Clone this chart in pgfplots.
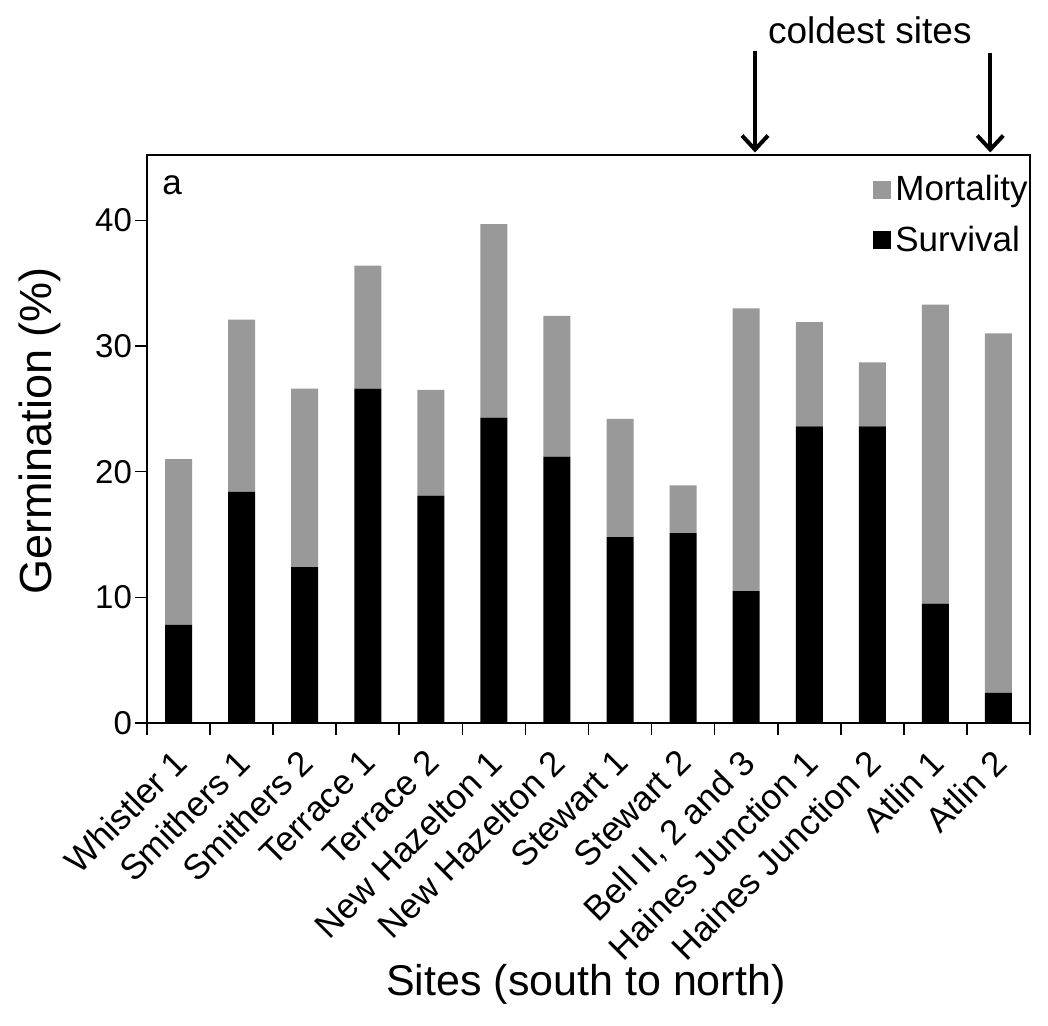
\documentclass[border=0pt]{standalone}
\usepackage{fontspec}
\setmainfont{Liberation Sans}
\usepackage{pgfplots}
\pgfplotsset{compat=1.18}
\usetikzlibrary{arrows.meta}
\definecolor{mort}{gray}{0.6}

\begin{document}
\begin{tikzpicture}
\path[use as bounding box] (-73.5pt,-151.5pt) rectangle (450.5pt,361.5pt);
\begin{axis}[
  at={(0pt,0pt)}, anchor=south west,
  scale only axis, width=441.5pt, height=284pt,
  ybar stacked, bar width=13.5pt,
  xmin=-0.5, xmax=13.5, ymin=0, ymax=45.2,
  clip=false,
  axis line style={line width=0.8pt},
  tick style={line width=0.8pt, black},
  tick align=outside, major tick length=6pt,
  tick pos=left,
  xtick={-0.5,0.5,...,13.5}, xticklabels={},
  extra x ticks={0,1,2,3,4,5,6,7,8,9,10,11,12,13},
  extra x tick labels={Whistler 1,Smithers 1,Smithers 2,Terrace 1,Terrace 2,New Hazelton 1,New Hazelton 2,Stewart 1,Stewart 2,{Bell II, 2 and 3},Haines Junction 1,Haines Junction 2,Atlin 1,Atlin 2},
  extra x tick style={major tick length=0pt},
  x tick label style={xshift=-3.6pt, yshift=-10.5pt, rotate=45, anchor=north east, font=\fontsize{17.5}{20}\selectfont, inner sep=1pt},
  ytick={0,10,20,30,40},
  y tick label style={font=\fontsize{16.5}{19}\selectfont, xshift=2pt},
  /pgf/number format/assume math mode=true,
  xlabel={Sites (south to north)},
  ylabel={Germination (\%)},
  xlabel style={at={(axis description cs:0.497,-0.461)}, anchor=center, font=\fontsize{21.5}{25}\selectfont},
  ylabel style={at={(axis description cs:-0.121,0.514)}, anchor=center, font=\fontsize{22.5}{26}\selectfont},
  reverse legend,
  legend cell align=left,
  legend style={draw=none, fill=none, at={(1,1)}, anchor=north east, yshift=-8pt, xshift=1pt, inner sep=0pt,
    font=\fontsize{17.5}{20}\selectfont, row sep=7pt},
  legend image code/.code={\fill[#1] (0pt,-4.5pt) rectangle (9pt,4.5pt);},
]
\addplot[fill=black, draw=none] coordinates {
(0,7.8) (1,18.4) (2,12.4) (3,26.6) (4,18.1) (5,24.3) (6,21.2)
(7,14.8) (8,15.1) (9,10.5) (10,23.6) (11,23.6) (12,9.5) (13,2.4)};
\addlegendentry{Survival}
\addplot[fill=mort, draw=none] coordinates {
(0,13.2) (1,13.7) (2,14.2) (3,9.8) (4,8.4) (5,15.4) (6,11.2)
(7,9.4) (8,3.8) (9,22.5) (10,8.3) (11,5.1) (12,23.8) (13,28.6)};
\addlegendentry{Mortality}
\node[font=\fontsize{17.5}{20}\selectfont] at (axis cs:-0.1,42.8) {a};
\node[font=\fontsize{18.5}{22}\selectfont] at (axis cs:10.96,55.1) {coldest sites};
\draw[line width=2pt, -{Straight Barb[length=7pt,width=13pt]}] (axis cs:9.14,53.5) -- (axis cs:9.14,45.4);
\draw[line width=2pt, -{Straight Barb[length=7pt,width=13pt]}] (axis cs:12.87,53.3) -- (axis cs:12.87,45.4);
\end{axis}
\end{tikzpicture}
\end{document}
